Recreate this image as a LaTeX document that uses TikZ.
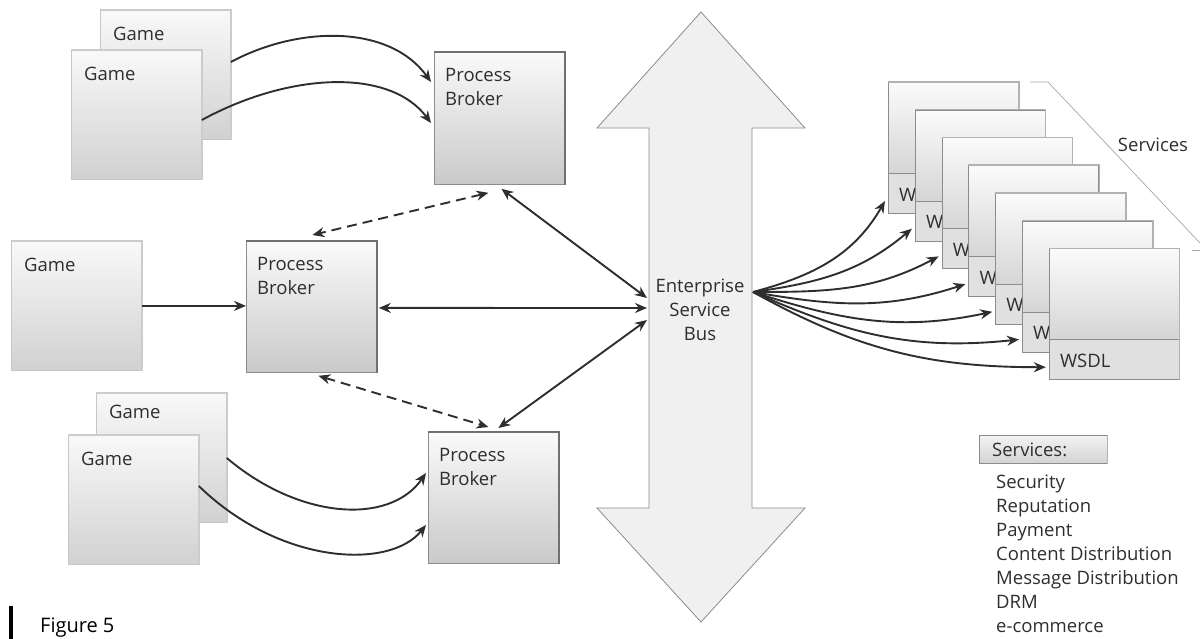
\documentclass[tikz,border=0pt]{standalone}
\usepackage{fontspec}
\setmainfont{Open Sans}
\usetikzlibrary{arrows.meta,calc}
\definecolor{ink}{HTML}{2E2E2E}
\definecolor{edge}{HTML}{8C8C8C}
\definecolor{rim}{HTML}{707070}
\tikzset{
  gamebox/.style={anchor=north west, inner sep=0, minimum width=130pt, minimum height=129pt,
    draw=gray!45, line width=0.8pt, top color=gray!5, bottom color=gray!36},
  brokerbox/.style={gamebox, draw=edge, top color=gray!4, bottom color=gray!42},
  svcbody/.style={anchor=north west, inner sep=0, minimum width=130pt, minimum height=91pt,
    draw=edge, line width=0.8pt, top color=gray!3, bottom color=gray!33},
  svcstrip/.style={anchor=north west, inner sep=0, minimum width=130pt, minimum height=40pt,
    draw=edge, line width=0.8pt, fill=gray!24},
  legbox/.style={anchor=north west, inner sep=0, minimum width=128pt, minimum height=28pt,
    draw=edge, line width=0.8pt, top color=gray!10, bottom color=gray!34},
  lbl/.style={anchor=north west, inner sep=0, align=left, text=ink,
    font=\fontsize{18.5}{24}\selectfont},
  rimline/.style={draw=rim, line width=1.8pt},
  softrim/.style={draw=gray!40, line width=1.6pt},
  conn/.style={draw=ink, line width=1.9pt, -{Stealth[length=12pt,width=10pt]}},
  conn2/.style={draw=ink, line width=1.9pt, {Stealth[length=12pt,width=10pt]}-{Stealth[length=12pt,width=10pt]}},
  dconn/.style={conn2, dash pattern=on 10pt off 6pt},
}
\begin{document}
\begin{tikzpicture}[x=1pt,y=-1pt]
\useasboundingbox (0,0) rectangle (1200,638);
\clip (0,0) rectangle (1200,638);

% ---------- Enterprise Service Bus (double-headed arrow) ----------
\filldraw[fill=gray!12, draw=edge, line width=0.8pt]
  (701,12) -- (805,128) -- (752,128) -- (752,508) -- (805,508) -- (701,622)
  -- (597,508) -- (649,508) -- (649,128) -- (597,128) -- cycle;
\node[lbl, align=center, anchor=center] (bus) at (700,310) {Enterprise\\Service\\Bus};
\coordinate (busA) at (647,298);
\coordinate (busB) at (647,308);
\coordinate (busC) at (647,320);
\coordinate (busout) at (753,292);

% ---------- games ----------
\node[gamebox] (gameT2) at (100,10) {};
\draw[softrim] (gameT2.north west) -- (gameT2.north east) -- (gameT2.south east);
\node[lbl] (gameT2txt) at ($(gameT2.north west)+(13,17)$) {Game};
\node[gamebox] (gameT1) at (71,50) {};
\draw[softrim] (gameT1.north west) -- (gameT1.north east) -- (gameT1.south east);
\node[lbl] (gameT1txt) at ($(gameT1.north west)+(13,17)$) {Game};

\node[gamebox] (gameM) at (11,241) {};
\draw[softrim] (gameM.north west) -- (gameM.north east) -- (gameM.south east);
\node[lbl] (gameMtxt) at ($(gameM.north west)+(13,17)$) {Game};

\node[gamebox] (gameB2) at (96,393) {};
\draw[softrim] (gameB2.north west) -- (gameB2.north east) -- (gameB2.south east);
\node[lbl] (gameB2txt) at ($(gameB2.north west)+(13,12)$) {Game};
\node[gamebox] (gameB1) at (68,435) {};
\draw[softrim] (gameB1.north west) -- (gameB1.north east) -- (gameB1.south east);
\node[lbl] (gameB1txt) at ($(gameB1.north west)+(13,17)$) {Game};

% ---------- process brokers ----------
\node[brokerbox, minimum height=132pt] (brokerT) at (434,52) {};
\draw[rimline] (brokerT.north west) -- (brokerT.north east) -- (brokerT.south east);
\node[lbl] (brokerTtxt) at ($(brokerT.north west)+(11,16)$) {Process\\Broker};

\node[brokerbox, minimum height=131pt] (brokerM) at (246,241) {};
\draw[rimline] (brokerM.north west) -- (brokerM.north east) -- (brokerM.south east);
\node[lbl] (brokerMtxt) at ($(brokerM.north west)+(11,16)$) {Process\\Broker};

\node[brokerbox, minimum height=131pt] (brokerB) at (428,432) {};
\draw[rimline] (brokerB.north west) -- (brokerB.north east) -- (brokerB.south east);
\node[lbl] (brokerBtxt) at ($(brokerB.north west)+(11,16)$) {Process\\Broker};

% ---------- game to broker connectors ----------
\draw[conn] ($(gameT2.north east)+(0,52)$) .. controls (300,25) and (390,25) .. ($(brokerT.north west)+(-3,30)$);
\draw[conn] ($(gameT1.north east)+(0,70)$) .. controls (290,72) and (390,68) .. ($(brokerT.north west)+(-3,71)$);
\draw[conn] (gameM.east) -- (gameM.east -| brokerM.west);
\draw[conn] ($(gameB2.north east)+(0,65)$) .. controls (300,520) and (390,525) .. ($(brokerB.north west)+(-2,41)$);
\draw[conn] ($(gameB1.north east)+(0,51)$) .. controls (280,565) and (390,570) .. ($(brokerB.north west)+(-2,93)$);

% ---------- broker to broker (dashed) ----------
\draw[dconn] ($(brokerT.south)+(-11,8)$) -- ($(brokerM.north)+(1,-6)$);
\draw[dconn] ($(brokerM.south)+(7,3)$) -- ($(brokerB.north)+(-5,-5)$);

% ---------- broker to bus ----------
\draw[conn2] ($(brokerT.south)+(2,4)$) -- (busA);
\draw[conn2] ($(brokerM.east)+(2,1)$) -- (busB);
\draw[conn2] ($(brokerB.north)+(5,-4)$) -- (busC);

% ---------- services stack ----------
\foreach \k in {0,...,6} {
  \pgfmathsetmacro\cx{888+26.8*\k}
  \pgfmathsetmacro\cy{82+27.7*\k}
  \node[svcbody] (svc\k) at (\cx,\cy) {};
  \node[svcstrip] (wsdl\k) at (\cx,\cy+91) {};
  \draw[rimline, line width=1.4pt, draw=gray!60] (svc\k.north west) -- (svc\k.north east) -- (wsdl\k.south east);
  \node[lbl, anchor=west] (wsdltxt\k) at ($(wsdl\k.west)+(11,1)$) {WSDL};
}

% ---------- bus to services ----------
\draw[conn] (busout) to[out=15,  in=240] ($(wsdl0.north west)+(-3,28)$);
\draw[conn] (busout) to[out=8,   in=220] ($(wsdl1.north west)+(-3,28)$);
\draw[conn] (busout) to[out=0,   in=208] ($(wsdl2.north west)+(-3,28)$);
\draw[conn] (busout) to[out=-10, in=198] ($(wsdl3.north west)+(-3,28)$);
\draw[conn] (busout) to[out=-18, in=192] ($(wsdl4.north west)+(-3,28)$);
\draw[conn] (busout) to[out=-24, in=186] ($(wsdl5.north west)+(-3,28)$);
\draw[conn] (busout) to[out=-29, in=180] ($(wsdl6.north west)+(-3,28)$);

% ---------- services bracket ----------
\coordinate (brA) at (1030,82);
\coordinate (brB) at (1048,82);
\coordinate (brC) at (1200,243);
\coordinate (brD) at (1192,250);
\coordinate (brE) at (1200,250);
\draw[gray!70, line width=0.7pt] (brA) -- (brB) -- (brC);
\draw[gray!70, line width=0.7pt] (brD) -- (brE);
\node[lbl, anchor=center] (svclabel) at (1153,145) {Services};

% ---------- legend ----------
\node[legbox] (legend) at (979,435) {};
\draw[rimline, line width=1.2pt, draw=gray!60] (legend.north east) -- (legend.south east);
\node[lbl, anchor=west] (legendtitle) at (992,450) {Services:};
\foreach \t [count=\i] in {Security,Reputation,Payment,Content Distribution,Message Distribution,DRM,e-commerce}
  \node[lbl, anchor=base west] (item\i) at (996,{488.6+24.0*(\i-1)}) {\t};

% ---------- caption ----------
\fill[black] (9,606) rectangle (13,640);
\node[lbl, anchor=base west, text=black, font=\fontsize{20}{24}\selectfont] (caption) at (40,632) {Figure 5};
\end{tikzpicture}
\end{document}
